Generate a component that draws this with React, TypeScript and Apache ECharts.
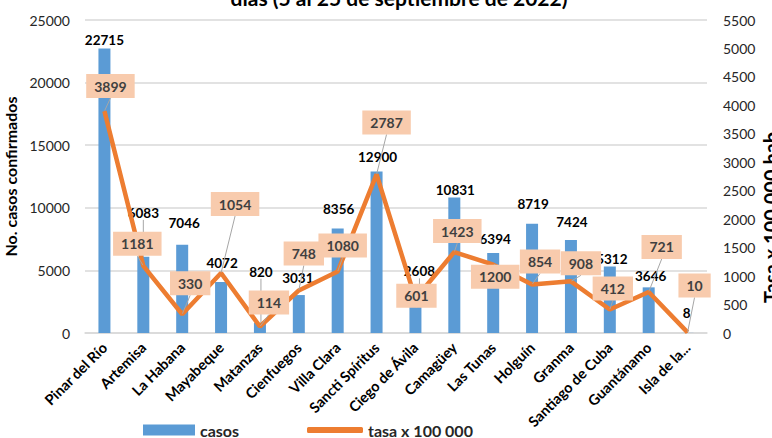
import React, { useEffect, useRef } from "react";
import * as echarts from "echarts";

const categories = [
  "Pinar del Río", "Artemisa", "La Habana", "Mayabeque", "Matanzas", "Cienfuegos",
  "Villa Clara", "Sancti Spíritus", "Ciego de Ávila", "Camagüey", "Las Tunas",
  "Holguín", "Granma", "Santiago de Cuba", "Guantánamo", "Isla de la...",
];
const casos = [22715, 6083, 7046, 4072, 820, 3031, 8356, 12900, 2608, 10831, 6394, 8719, 7424, 5312, 3646, 8];
const tasa = [3899, 1181, 330, 1054, 114, 748, 1080, 2787, 601, 1423, 1200, 854, 908, 412, 721, 10];
const leftTicks = { min: 0, max: 25000, interval: 5000 };
const rightTicks = { min: 0, max: 5500, interval: 500 };

// label placement tweaks (pixels), layout only
const barLabelDx = [0, 0, 2, 1, 1, -1, 1, 1, 4, 1, 2, 1, 1, 2, 2, -1];
const barLabelDy = [-2, -37, -15, -12, -44, -10, -12, -7, -22, 0, -7, -13, -11, 0, -4, -13];
const lineLabelDx = [6, -6, 8, 14, 9, 5, 5, 10, 1, 3, 2, 8, 10, 3, 13, 7];
const lineLabelDy = [-25, -22, -31, -69, -24, -37, -26, -52, -3, -21, 12, -23, -18, -21, -45, -47];

const FONT = "Lato";

export default function App() {
  const ref = useRef<HTMLDivElement>(null);
  useEffect(() => {
    if (!ref.current) return;
    const chart = echarts.init(ref.current, undefined, { renderer: "svg" });
    const barData = casos.map((v, i) => ({
      value: v,
      labelLine: { show: barLabelDy[i] < -20 },
    }));
    chart.setOption({
      animation: false,
      textStyle: { fontFamily: FONT },
      grid: { left: 85, right: 65, top: 20, bottom: 105, outerBoundsMode: "none", containLabel: false },
      graphic: [
        {
          type: "text",
          x: 399,
          y: -3,
          style: {
            text: "días (5 al 25 de septiembre de 2022)",
            font: `bold 21px ${FONT}`,
            fill: "#000",
            align: "center",
            verticalAlign: "middle",
          },
        },
        {
          type: "text",
          x: 771,
          y: 215,
          rotation: Math.PI / 2,
          style: {
            text: "Tasa x 100 000 hab.",
            font: `bold 20px ${FONT}`,
            fill: "#000",
            align: "center",
            verticalAlign: "middle",
          },
        },
      ],
      legend: [
        {
          data: ["casos"],
          left: 138,
          top: 417,
          itemWidth: 52,
          itemHeight: 11,
          icon: "rect",
          textStyle: { fontFamily: FONT, fontWeight: "bold", fontSize: 16, color: "#262626" },
        },
        {
          data: ["tasa x 100 000"],
          left: 302,
          top: 417,
          itemWidth: 56,
          itemHeight: 6,
          icon: "roundRect",
          textStyle: { fontFamily: FONT, fontWeight: "bold", fontSize: 16, color: "#262626" },
        },
      ],
      xAxis: {
        type: "category",
        data: categories,
        axisLine: { lineStyle: { color: "#d9d9d9", width: 1.5 } },
        axisTick: { show: false },
        axisLabel: {
          interval: 0,
          rotate: 45,
          fontFamily: FONT,
          fontWeight: "bold",
          fontSize: 14.5,
          color: "#000",
          margin: 12,
        },
      },
      yAxis: [
        {
          type: "value",
          ...leftTicks,
          name: "No. casos confirmados",
          nameLocation: "middle",
          nameRotate: 90,
          nameGap: 62,
          nameTextStyle: { fontFamily: FONT, fontWeight: "bold", fontSize: 16, color: "#000" },
          axisLabel: { fontFamily: FONT, fontSize: 14, color: "#262626", margin: 15, formatter: (v: number) => String(v) },
          splitLine: { lineStyle: { color: "#d9d9d9", width: 1.5 } },
          axisLine: { show: false },
          axisTick: { show: false },
        },
        {
          type: "value",
          ...rightTicks,
          axisLabel: { fontFamily: FONT, fontSize: 14, color: "#262626", margin: 16, formatter: (v: number) => String(v) },
          splitLine: { show: false },
          axisLine: { show: false },
          axisTick: { show: false },
        },
      ],
      series: [
        {
          name: "casos",
          type: "bar",
          yAxisIndex: 0,
          data: barData,
          barWidth: 12,
          itemStyle: { color: "#5B9BD5" },
          z: 2,
          label: {
            show: true,
            position: "top",
            distance: 0,
            fontFamily: FONT,
            fontWeight: "bold",
            fontSize: 13.5,
            color: "#000",
          },
          labelLine: { show: false, lineStyle: { color: "#a6a6a6", width: 1 } },
          labelLayout: (p: any) => ({ dx: barLabelDx[p.dataIndex], dy: barLabelDy[p.dataIndex] }),
        },
        {
          name: "tasa x 100 000",
          type: "line",
          yAxisIndex: 1,
          data: tasa,
          z: 5,
          symbol: "circle",
          symbolSize: 1,
          showSymbol: true,
          itemStyle: { color: "#ED7D31" },
          lineStyle: { color: "#ED7D31", width: 4.5 },
          label: {
            show: true,
            position: "inside",
            fontFamily: FONT,
            fontWeight: "bold",
            fontSize: 14,
            color: "#404040",
            backgroundColor: "#F8CBAD",
            padding: [5, 8],
          },
          labelLine: { show: true, lineStyle: { color: "#a6a6a6", width: 1 } },
          labelLayout: (p: any) => ({ dx: lineLabelDx[p.dataIndex], dy: lineLabelDy[p.dataIndex] }),
        },
      ],
    });
    return () => chart.dispose();
  }, []);
  return <div ref={ref} style={{ width: 772, height: 438, position: "absolute", left: 0, top: 0 }} />;
}
